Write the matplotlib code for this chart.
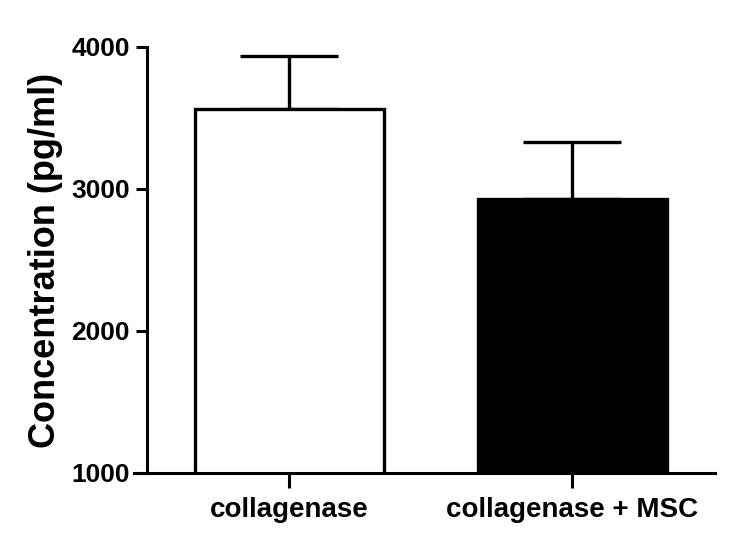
import matplotlib
matplotlib.use("Agg")
import matplotlib.pyplot as plt

categories = ["collagenase", "collagenase + MSC"]
means = [3560, 2930]
errors = [380, 400]
colors = ["white", "black"]
yticks = [1000, 2000, 3000, 4000]

plt.rcParams['font.family'] = ['Liberation Sans', 'DejaVu Sans']
plt.rcParams['font.weight'] = 'bold'

fig = plt.figure(figsize=(7.51, 5.34), dpi=100)
ax = fig.add_axes([134/751, 61/534, (715-134)/751, (473-47)/534])

x = list(range(len(categories)))
ax.bar(x, means, width=0.67, color=colors, edgecolor="black", linewidth=2.4, zorder=2)
ax.errorbar(x, means, yerr=[[0]*len(errors), errors], fmt="none", ecolor="black",
            elinewidth=2.4, capsize=35, capthick=2.4, zorder=1)

for s in ["top", "right"]:
    ax.spines[s].set_visible(False)
ax.spines["left"].set_position(("data", -0.505))
ax.spines["left"].set_linewidth(2.2)
ax.spines["bottom"].set_linewidth(2.2)

ax.set_ylim(1000, 4000)
ax.set_xlim(-0.55, 1.505)
ax.set_yticks(yticks)
ax.set_yticklabels([str(t) for t in yticks])
ax.set_xticks(x)
ax.set_xticklabels(categories)
ax.set_ylabel("Concentration (pg/ml)", fontsize=26, fontweight='bold', labelpad=6)

ax.tick_params(axis="y", direction="out", length=8, width=2.2, pad=4, labelsize=19)
ax.tick_params(axis="x", direction="out", length=11, width=2.2, pad=6, labelsize=20)
for lab in ax.get_xticklabels() + ax.get_yticklabels():
    lab.set_fontweight('bold')

fig.savefig("out.png", dpi=100)
